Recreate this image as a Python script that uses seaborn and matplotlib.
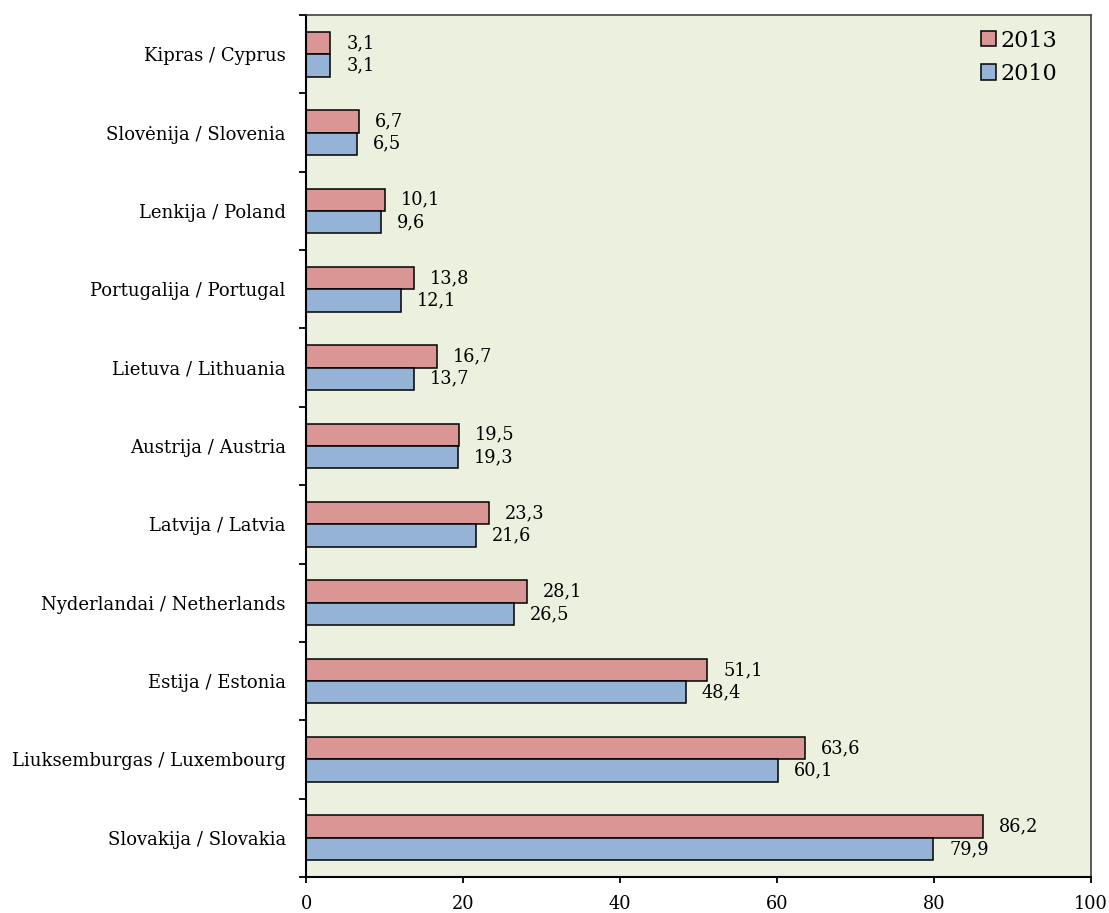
import numpy as np
import pandas as pd
import matplotlib
matplotlib.use("Agg")
import matplotlib.pyplot as plt
import seaborn as sns

countries = [
    "Kipras / Cyprus",
    "Slovėnija / Slovenia",
    "Lenkija / Poland",
    "Portugalija / Portugal",
    "Lietuva / Lithuania",
    "Austrija / Austria",
    "Latvija / Latvia",
    "Nyderlandai / Netherlands",
    "Estija / Estonia",
    "Liuksemburgas / Luxembourg",
    "Slovakija / Slovakia",
]
values_2013 = [3.1, 6.7, 10.1, 13.8, 16.7, 19.5, 23.3, 28.1, 51.1, 63.6, 86.2]
values_2010 = [3.1, 6.5, 9.6, 12.1, 13.7, 19.3, 21.6, 26.5, 48.4, 60.1, 79.9]
years = ["2013", "2010"]
x_ticks = [0, 20, 40, 60, 80, 100]

df = pd.DataFrame({
    "country": countries * 2,
    "value": values_2013 + values_2010,
    "year": [years[0]] * len(countries) + [years[1]] * len(countries),
})

sns.set_theme(style="ticks")
plt.rcParams["font.family"] = ["DejaVu Serif", "DejaVu Sans"]
plt.rcParams["text.color"] = "black"
plt.rcParams["xtick.color"] = "black"
plt.rcParams["ytick.color"] = "black"

fig = plt.figure(figsize=(11.09, 9.13), dpi=100)
ax = fig.add_axes([306 / 1109, 1 - 877 / 913, (1091 - 306) / 1109, (877 - 15) / 913])
ax.set_facecolor("#EBF1DE")

sns.barplot(
    data=df, x="value", y="country", hue="year", hue_order=years,
    order=countries, orient="h", saturation=1,
    palette={"2013": "#D99694", "2010": "#95B3D7"},
    width=0.57, edgecolor="black", linewidth=1.1, ax=ax, legend=True,
)

fmt = lambda v: f"{v:.1f}".replace(".", ",")
for cont in ax.containers:
    ax.bar_label(cont, labels=[fmt(v) for v in cont.datavalues],
                 padding=11.5, fontsize=12.8, color="black")

ax.set_xlim(0, 100)
ax.set_xticks(x_ticks)
ax.set_xticklabels([str(t) for t in x_ticks], fontsize=12.8)
ax.set_xlabel("")
ax.set_ylabel("")
ax.set_ylim(10.5, -0.5)
ax.set_yticks(np.arange(-0.5, 11, 1), minor=True)
ax.tick_params(axis="y", which="major", length=0, pad=14.5, labelsize=13, labelcolor="black")
ax.tick_params(axis="y", which="minor", length=5, width=1.3, color="black", direction="out")
ax.tick_params(axis="x", which="major", length=4, width=1.3, color="black", pad=9,
               direction="out", labelcolor="black")

for side in ["left", "bottom"]:
    ax.spines[side].set_color("black")
    ax.spines[side].set_linewidth(1.5)
for side in ["top", "right"]:
    ax.spines[side].set_visible(True)
    ax.spines[side].set_color("#303030")
    ax.spines[side].set_linewidth(1.1)

handles, labels = ax.get_legend_handles_labels()
ax.legend(handles, labels, loc="upper right", bbox_to_anchor=(0.957, 0.983),
          frameon=False, fontsize=16, handlelength=0.68, handleheight=0.68,
          handletextpad=0.2, labelspacing=0.5, borderpad=0, borderaxespad=0,
          labelcolor="black")

fig.savefig("out.png", dpi=100)
